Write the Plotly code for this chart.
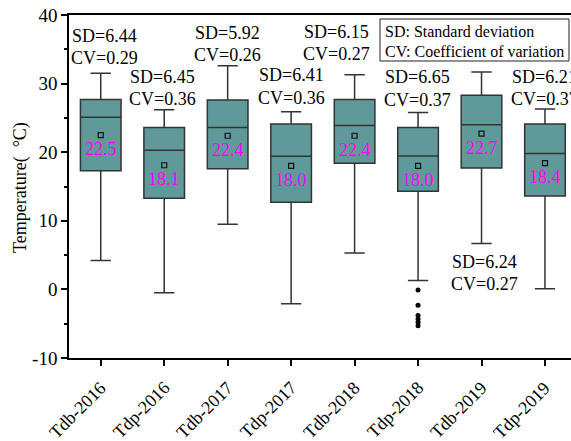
import plotly.graph_objects as go

# Box statistics per station/year (temperature, °C)
categories = ["Tdb-2016", "Tdp-2016", "Tdb-2017", "Tdp-2017",
              "Tdb-2018", "Tdp-2018", "Tdb-2019", "Tdp-2019"]
upper_whisker = [31.5, 26.2, 32.6, 25.9, 31.3, 25.8, 31.7, 26.3]
q3_values = [27.7, 23.6, 27.6, 24.1, 27.7, 23.6, 28.3, 24.1]
median_values = [25.1, 20.3, 23.6, 19.4, 23.9, 19.45, 24.0, 19.8]
q1_values = [17.3, 13.3, 17.6, 12.7, 18.4, 14.3, 17.7, 13.6]
lower_whisker = [4.2, -0.5, 9.5, -2.1, 5.3, 1.3, 6.7, 0.1]
mean_values = [22.5, 18.1, 22.4, 18.0, 22.4, 18.0, 22.7, 18.4]
sd_values = [6.44, 6.45, 5.92, 6.41, 6.15, 6.65, 6.24, 6.21]
cv_values = [0.29, 0.36, 0.26, 0.36, 0.27, 0.37, 0.27, 0.37]

# Outliers (only Tdp-2018 has points beyond the whiskers)
outlier_category = ["Tdp-2018"] * 6
outlier_values = [-0.1, -2.3, -3.8, -4.3, -4.8, -5.3]

y_tick_values = [-10, 0, 10, 20, 30, 40]
y_tick_labels = ["-10", "0", "10", "20", "30", "40"]

# Layout: placement of the SD / CV text for each box
sd_label_y = [36.9, 31.0, 37.4, 31.25, 37.5, 30.9, 3.98, 30.96]
cv_label_y = [33.7, 27.7, 34.2, 27.9, 34.3, 27.6, 0.83, 27.76]
label_xshift = [4, -2, 0, 0, -18, -1, 3, 0]

FONT = "Times New Roman, Liberation Serif, serif"
BOX_FILL = "#609999"
EDGE = "#333333"

fig = go.Figure()

fig.add_trace(go.Box(
    x=categories,
    q1=q1_values,
    median=median_values,
    q3=q3_values,
    lowerfence=lower_whisker,
    upperfence=upper_whisker,
    width=0.64,
    whiskerwidth=0.5,
    fillcolor=BOX_FILL,
    line=dict(color=EDGE, width=1.5),
    boxpoints=False,
    showlegend=False,
))

# Mean markers
fig.add_trace(go.Scatter(
    x=categories, y=mean_values, mode="markers",
    marker=dict(symbol="square-open", size=5, color="#111111",
                line=dict(width=1.2, color="#111111")),
    showlegend=False, hoverinfo="skip",
))

# Outlier points
fig.add_trace(go.Scatter(
    x=outlier_category, y=outlier_values, mode="markers",
    marker=dict(symbol="circle", size=5, color="black"),
    showlegend=False, hoverinfo="skip",
))

annotations = []
for cat, m in zip(categories, mean_values):
    annotations.append(dict(
        x=cat, y=m, xref="x", yref="y", text=f"{m:.1f}",
        showarrow=False, yanchor="top", yshift=-2,
        font=dict(family=FONT, size=18, color="#ff00ff"),
    ))
for cat, sd, cv, ys, yc, dx in zip(categories, sd_values, cv_values,
                                   sd_label_y, cv_label_y, label_xshift):
    annotations.append(dict(
        x=cat, y=ys, xref="x", yref="y", text=f"SD={sd:.2f}",
        showarrow=False, yanchor="middle", xshift=dx,
        font=dict(family=FONT, size=18, color="black"),
    ))
    annotations.append(dict(
        x=cat, y=yc, xref="x", yref="y", text=f"CV={cv:.2f}",
        showarrow=False, yanchor="middle", xshift=dx,
        font=dict(family=FONT, size=18, color="black"),
    ))

# Slanted category labels under the axis
for cat in categories:
    annotations.append(dict(
        x=cat, y=0, xref="x", yref="paper", text=cat,
        showarrow=False, textangle=-45,
        xanchor="right", yanchor="top", xshift=12, yshift=-17,
        font=dict(family=FONT, size=18, color="black"),
    ))

# Key box explaining the abbreviations
annotations.append(dict(
    x=0.6255, y=0.9525, xref="paper", yref="paper",
    text="SD: Standard deviation",
    showarrow=False, xanchor="left", yanchor="middle",
    font=dict(family=FONT, size=16, color="black"),
))
annotations.append(dict(
    x=0.6255, y=0.893, xref="paper", yref="paper",
    text="CV: Coefficient of variation",
    showarrow=False, xanchor="left", yanchor="middle",
    font=dict(family=FONT, size=16, color="black"),
))

# Y-axis title
annotations.append(dict(
    x=-0.0976, y=0.4956, xref="paper", yref="paper",
    text="Temperature(  °C)", textangle=-90,
    showarrow=False, xanchor="center", yanchor="middle",
    font=dict(family=FONT, size=18, color="black"),
))

fig.update_layout(
    width=571, height=441, autosize=False,
    margin=dict(l=69, r=0, t=15, b=83, pad=0),
    paper_bgcolor="white", plot_bgcolor="white",
    font=dict(family=FONT, size=18, color="black"),
    annotations=annotations,
    shapes=[dict(
        type="rect", xref="paper", yref="paper",
        x0=0.6195, x1=0.996, y0=0.8659, y1=0.9883,
        line=dict(color="#222222", width=1), fillcolor="rgba(0,0,0,0)",
    )],
    xaxis=dict(
        type="category", categoryorder="array", categoryarray=categories,
        range=[-0.5, 7.41],
        showline=True, linecolor="black", linewidth=1.5, mirror=True,
        ticks="outside", ticklen=6, tickwidth=1.5, tickcolor="black",
        showticklabels=False,
        showgrid=False, zeroline=False,
    ),
    yaxis=dict(
        range=[-10, 40],
        tickvals=y_tick_values, ticktext=y_tick_labels,
        showline=True, linecolor="black", linewidth=1.5, mirror=False,
        ticks="outside", ticklen=6, tickwidth=1.5, tickcolor="black",
        minor=dict(dtick=5, ticks="outside", ticklen=3, tickwidth=1.5,
                   tickcolor="black", showgrid=False),
        tickfont=dict(family=FONT, size=19, color="black"),
        showgrid=False, zeroline=False,
    ),
)

fig.write_html("out.html")
